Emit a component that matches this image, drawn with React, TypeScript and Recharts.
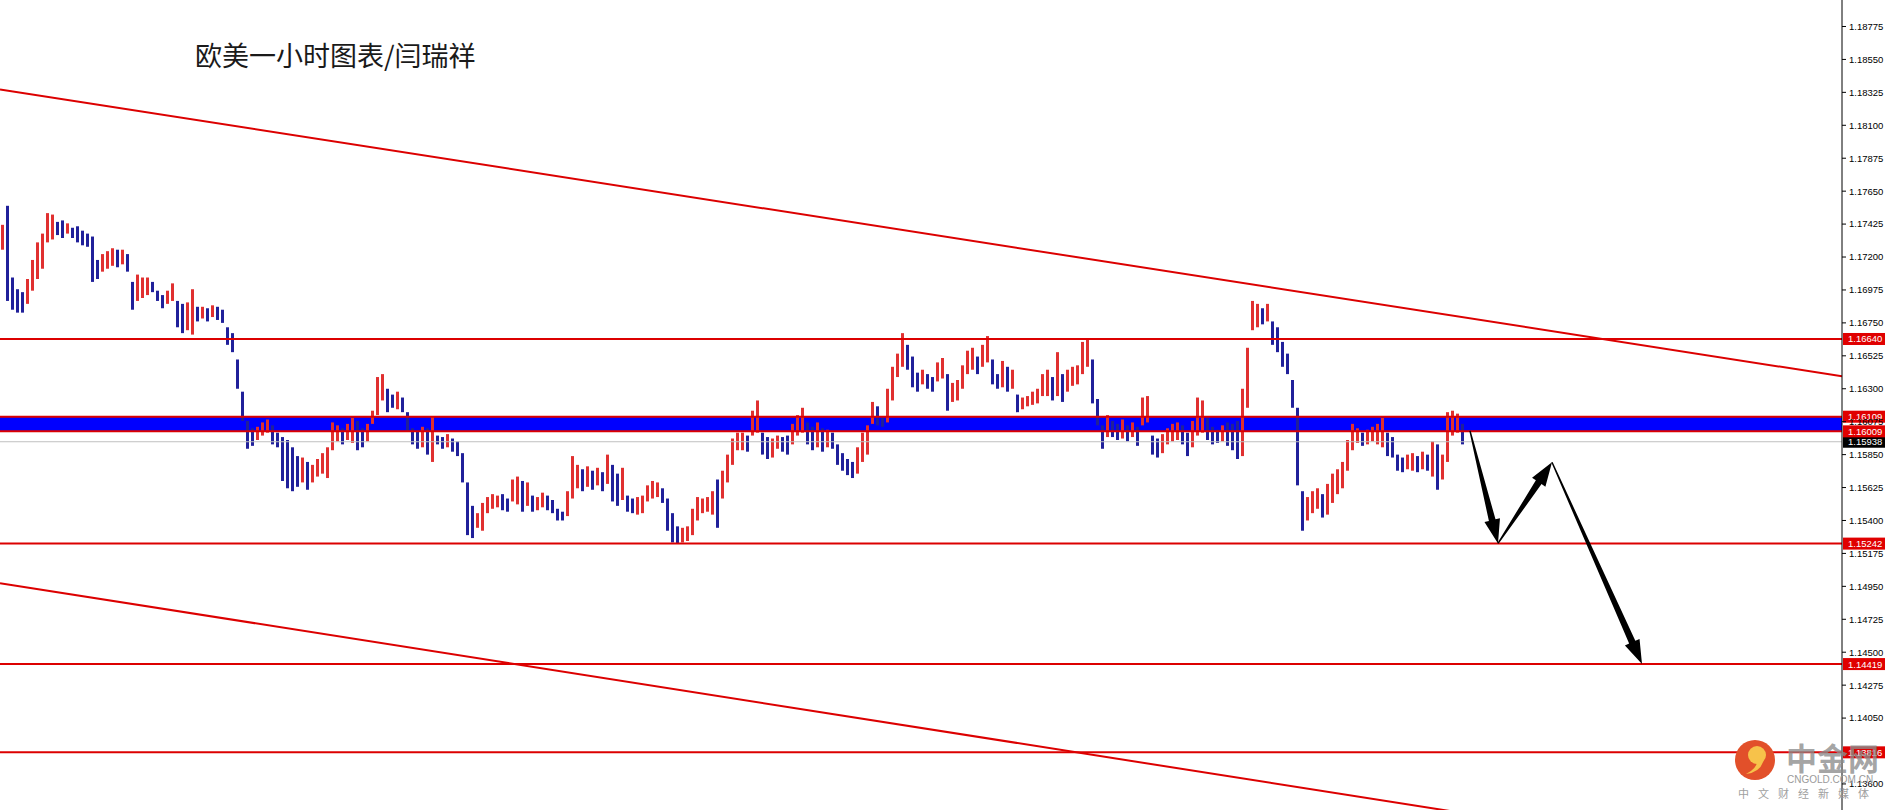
import React from "react";
import {
  ComposedChart,
  Bar,
  Cell,
  XAxis,
  YAxis,
  ReferenceLine,
  ReferenceArea,
} from "recharts";

// EUR/USD 1h bars, prices in 0.0001 units (11742 = 1.1742)
const highs = [
  11742, 11755, 11706, 11698, 11696, 11705, 11718, 11730, 11736, 11750, 11749, 11744, 11745, 11743, 11740, 11741, 11738, 11736, 11734, 11718,
  11722, 11724, 11726, 11725, 11725, 11722, 11703, 11708, 11706, 11706, 11703, 11697, 11694, 11697, 11702, 11690, 11688, 11689, 11698, 11686,
  11686, 11685, 11687, 11686, 11684, 11672, 11668, 11650, 11628, 11608, 11603, 11604, 11607, 11609, 11605, 11600, 11597, 11595, 11590, 11584,
  11583, 11580, 11578, 11582, 11586, 11590, 11607, 11605, 11603, 11606, 11610, 11608, 11603, 11606, 11615, 11638, 11640, 11630, 11626, 11628,
  11624, 11614, 11603, 11601, 11604, 11603, 11611, 11598, 11597, 11599, 11596, 11594, 11586, 11566, 11550, 11545, 11552, 11556, 11558, 11557,
  11558, 11555, 11568, 11570, 11567, 11566, 11557, 11556, 11559, 11557, 11554, 11548, 11546, 11560, 11584, 11578, 11575, 11577, 11574, 11576,
  11573, 11585, 11578, 11572, 11576, 11557, 11555, 11556, 11557, 11564, 11567, 11566, 11562, 11555, 11545, 11536, 11535, 11536, 11548, 11556,
  11555, 11556, 11560, 11568, 11574, 11585, 11596, 11600, 11600, 11598, 11615, 11622, 11600, 11597, 11596, 11598, 11597, 11598, 11606, 11612,
  11617, 11607, 11604, 11607, 11603, 11602, 11600, 11592, 11586, 11582, 11580, 11590, 11600, 11605, 11621, 11618, 11610, 11630, 11645, 11654,
  11668, 11660, 11652, 11641, 11643, 11640, 11638, 11648, 11651, 11640, 11634, 11636, 11646, 11656, 11658, 11652, 11660, 11666, 11650, 11640,
  11649, 11645, 11643, 11626, 11624, 11625, 11628, 11630, 11640, 11643, 11638, 11655, 11640, 11643, 11645, 11646, 11662, 11664, 11650, 11623,
  11605, 11612, 11608, 11606, 11609, 11605, 11607, 11604, 11624, 11625, 11598, 11596, 11599, 11603, 11606, 11607, 11605, 11600, 11608, 11624,
  11622, 11610, 11604, 11602, 11605, 11607, 11606, 11608, 11630, 11658, 11690, 11688, 11685, 11688, 11676, 11672, 11662, 11654, 11636, 11617,
  11560, 11556, 11560, 11562, 11558, 11565, 11572, 11575, 11580, 11595, 11606, 11603, 11600, 11602, 11604, 11606, 11610, 11600, 11597, 11585,
  11583, 11585, 11586, 11584, 11587, 11585, 11594, 11592, 11585, 11614, 11615, 11613, 11606,
];
const lows = [
  11725, 11690, 11684, 11682, 11682, 11688, 11697, 11705, 11712, 11730, 11732, 11735, 11733, 11736, 11733, 11730, 11728, 11727, 11703, 11705,
  11710, 11712, 11714, 11713, 11715, 11710, 11684, 11690, 11692, 11694, 11696, 11690, 11685, 11688, 11690, 11672, 11668, 11670, 11667, 11676,
  11678, 11676, 11679, 11677, 11675, 11660, 11655, 11630, 11608, 11589, 11591, 11595, 11598, 11600, 11592, 11590, 11567, 11562, 11560, 11563,
  11566, 11561, 11566, 11570, 11572, 11569, 11588, 11594, 11592, 11595, 11593, 11588, 11590, 11594, 11606, 11612, 11622, 11614, 11617, 11616,
  11614, 11601, 11592, 11589, 11590, 11585, 11580, 11592, 11589, 11590, 11587, 11584, 11566, 11530, 11528, 11535, 11533, 11545, 11548, 11549,
  11547, 11546, 11553, 11551, 11546, 11550, 11546, 11547, 11549, 11547, 11545, 11540, 11540, 11543, 11555, 11562, 11560, 11563, 11561, 11564,
  11560, 11565, 11553, 11550, 11554, 11546, 11545, 11544, 11545, 11553, 11555, 11556, 11552, 11533, 11525, 11524, 11525, 11526, 11530, 11540,
  11545, 11546, 11544, 11535, 11555, 11566, 11578, 11588, 11588, 11587, 11598, 11600, 11585, 11582, 11583, 11589, 11587, 11585, 11592, 11598,
  11600, 11592, 11588, 11590, 11587, 11590, 11589, 11578, 11574, 11571, 11569, 11572, 11580, 11585, 11606, 11605, 11604, 11607, 11622, 11638,
  11645, 11643, 11631, 11628, 11633, 11630, 11628, 11635, 11637, 11615, 11621, 11622, 11630, 11640, 11643, 11640, 11645, 11648, 11633, 11630,
  11631, 11628, 11630, 11614, 11616, 11618, 11619, 11620, 11625, 11625, 11622, 11625, 11621, 11628, 11632, 11633, 11640, 11645, 11620, 11605,
  11589, 11597, 11597, 11595, 11596, 11594, 11597, 11591, 11605, 11607, 11585, 11583, 11586, 11592, 11594, 11595, 11592, 11584, 11590, 11598,
  11600, 11595, 11592, 11593, 11594, 11591, 11588, 11582, 11584, 11617, 11670, 11672, 11674, 11676, 11660, 11655, 11645, 11640, 11617, 11564,
  11533, 11540, 11545, 11548, 11542, 11544, 11552, 11558, 11562, 11574, 11588, 11593, 11591, 11592, 11594, 11592, 11590, 11584, 11583, 11574,
  11573, 11575, 11574, 11573, 11575, 11574, 11570, 11561, 11568, 11580, 11598, 11600, 11592,
];

// visible axis labels (1.13825 sits under the 1.13816 tag)
const priceTicks = [
  1.136, 1.1405, 1.14275, 1.145, 1.14725, 1.1495, 1.15175, 1.154, 1.15625, 1.1585, 1.16075,
  1.163, 1.16525, 1.1675, 1.16975, 1.172, 1.17425, 1.1765, 1.17875, 1.181, 1.18325, 1.1855, 1.18775,
];

const resistance = 1.1664;
const zoneTop = 1.16109;
const zoneBottom = 1.16009;
const bidPrice = 1.15938;
const supports = [1.15242, 1.14419, 1.13816];

const upperTrend = [
  { x: 0, y: 1.18345 },
  { x: 368.4, y: 1.16385 },
];
const lowerTrend = [
  { x: 0, y: 1.14972 },
  { x: 368.4, y: 1.12994 },
];
// projected path drawn with arrows
const pathPoints = [
  { x: 294, y: 1.16012 },
  { x: 299.6, y: 1.15243 },
  { x: 310.4, y: 1.15798 },
  { x: 328.4, y: 1.14419 },
];

const W = 1892;
const H = 810;
const RED = "#dc0000";
const BAR_UP = "#e03030";
const BAR_DOWN = "#20209a";

const bars = highs.map((h, i) => {
  const mid = (h + lows[i]) / 2;
  const prev = i > 0 ? (highs[i - 1] + lows[i - 1]) / 2 : mid;
  return { x: i + 0.5, range: [lows[i] / 10000, h / 10000], up: mid >= prev };
});

// price tag drawn on the axis at the end of a level line
function tag(text: string, bg: string) {
  // eslint-disable-next-line @typescript-eslint/no-explicit-any
  return (p: any) => {
    const vb = p.viewBox;
    const x = vb.x + vb.width + 1;
    const y = vb.y;
    return (
      <g>
        <rect x={x} y={y - 6} width={42} height={12} fill={bg} />
        <text x={x + 5} y={y + 3.5} fill="#fff" fontSize={9.5} fontFamily="'Liberation Sans', sans-serif">
          {text}
        </text>
      </g>
    );
  };
}

// eslint-disable-next-line @typescript-eslint/no-explicit-any
function arrowShape(props: any) {
  const { x1, y1, x2, y2 } = props;
  const dx = x2 - x1;
  const dy = y2 - y1;
  const len = Math.hypot(dx, dy) || 1;
  const ux = dx / len;
  const uy = dy / len;
  const nx = -uy;
  const ny = ux;
  const head = 24;
  const hw = 8;
  const tail = 0.7;
  const neck = 3.4;
  const bx = x2 - ux * head;
  const by = y2 - uy * head;
  const pts = [
    [x1 + nx * tail, y1 + ny * tail],
    [bx + nx * neck, by + ny * neck],
    [bx + nx * hw, by + ny * hw],
    [x2, y2],
    [bx - nx * hw, by - ny * hw],
    [bx - nx * neck, by - ny * neck],
    [x1 - nx * tail, y1 - ny * tail],
  ];
  return <polygon points={pts.map((q) => q.join(",")).join(" ")} fill="#000" />;
}

function Watermark() {
  return (
    <svg width={W} height={H} style={{ position: "absolute", left: 0, top: 0, pointerEvents: "none" }}>
      <circle cx={1755} cy={760} r={20} fill="#e2502a" />
      <circle cx={1757} cy={755} r={9} fill="#f7c24a" />
      <path d="M1764 758 Q1762 772 1746 774 Q1758 768 1757 760 Z" fill="#f7c24a" />
      <text x={1786} y={770} fontSize={31} fontWeight="bold" fill="#8c8c8c" fillOpacity={0.8} fontFamily="'Noto Sans CJK SC', sans-serif">
        中金网
      </text>
      <text x={1787} y={783} fontSize={10} fill="#9a9a9a" fontFamily="'Liberation Sans', sans-serif">
        CNGOLD.COM.CN
      </text>
      <text x={1738} y={798} fontSize={11} fill="#a0a0a0" letterSpacing={9} fontFamily="'Noto Sans CJK SC', sans-serif">
        中文财经新媒体
      </text>
    </svg>
  );
}

export default function App() {
  return (
    <div style={{ position: "absolute", left: 0, top: 0, width: W, height: H, background: "#fff" }}>
      <ComposedChart width={W} height={H} data={bars} margin={{ top: 0, right: 0, bottom: 0, left: 0 }}>
        <XAxis type="number" dataKey="x" domain={[0, 368.4]} hide allowDataOverflow />
        <YAxis
          orientation="right"
          type="number"
          domain={[1.13422, 1.18956]}
          ticks={priceTicks}
          interval={0}
          width={50}
          allowDataOverflow
          tickFormatter={(v) => v.toFixed(5)}
          tick={{ fill: "#000", fontSize: 9.5, fontFamily: "'Liberation Sans', sans-serif" }}
          tickSize={4}
          tickMargin={3}
          axisLine={{ stroke: "#000" }}
          tickLine={{ stroke: "#000" }}
        />
        <ReferenceArea y1={zoneBottom} y2={zoneTop} fill="#0000ff" fillOpacity={1} stroke="none" />
        <ReferenceLine y={bidPrice} stroke="#c0c0c0" strokeWidth={1} label={tag("1.15938", "#000")} />
        <ReferenceLine y={zoneTop} stroke={RED} strokeWidth={2} label={tag("1.16109", "#e00000")} />
        <ReferenceLine y={zoneBottom} stroke={RED} strokeWidth={2} label={tag("1.16009", "#e00000")} />
        <ReferenceLine y={resistance} stroke={RED} strokeWidth={2} label={tag("1.16640", "#e00000")} />
        {supports.map((s) => (
          <ReferenceLine key={s} y={s} stroke={RED} strokeWidth={2} label={tag(s.toFixed(5), "#e00000")} />
        ))}
        <Bar dataKey="range" barSize={3} isAnimationActive={false}>
          {bars.map((b, i) => (
            <Cell key={i} fill={b.up ? BAR_UP : BAR_DOWN} />
          ))}
        </Bar>
        <ReferenceLine segment={upperTrend} stroke={RED} strokeWidth={2} ifOverflow="hidden" />
        <ReferenceLine segment={lowerTrend} stroke={RED} strokeWidth={2} ifOverflow="hidden" />
        {pathPoints.slice(1).map((p, i) => (
          <ReferenceLine key={i} segment={[pathPoints[i], p]} shape={arrowShape} ifOverflow="visible" />
        ))}
      </ComposedChart>
      <div
        style={{
          position: "absolute",
          left: 195,
          top: 40,
          fontSize: 27,
          lineHeight: "30px",
          color: "#1a1a1a",
          fontFamily: "'Noto Sans CJK SC', sans-serif",
        }}
      >
        欧美一小时图表/闫瑞祥
      </div>
      <Watermark />
    </div>
  );
}
